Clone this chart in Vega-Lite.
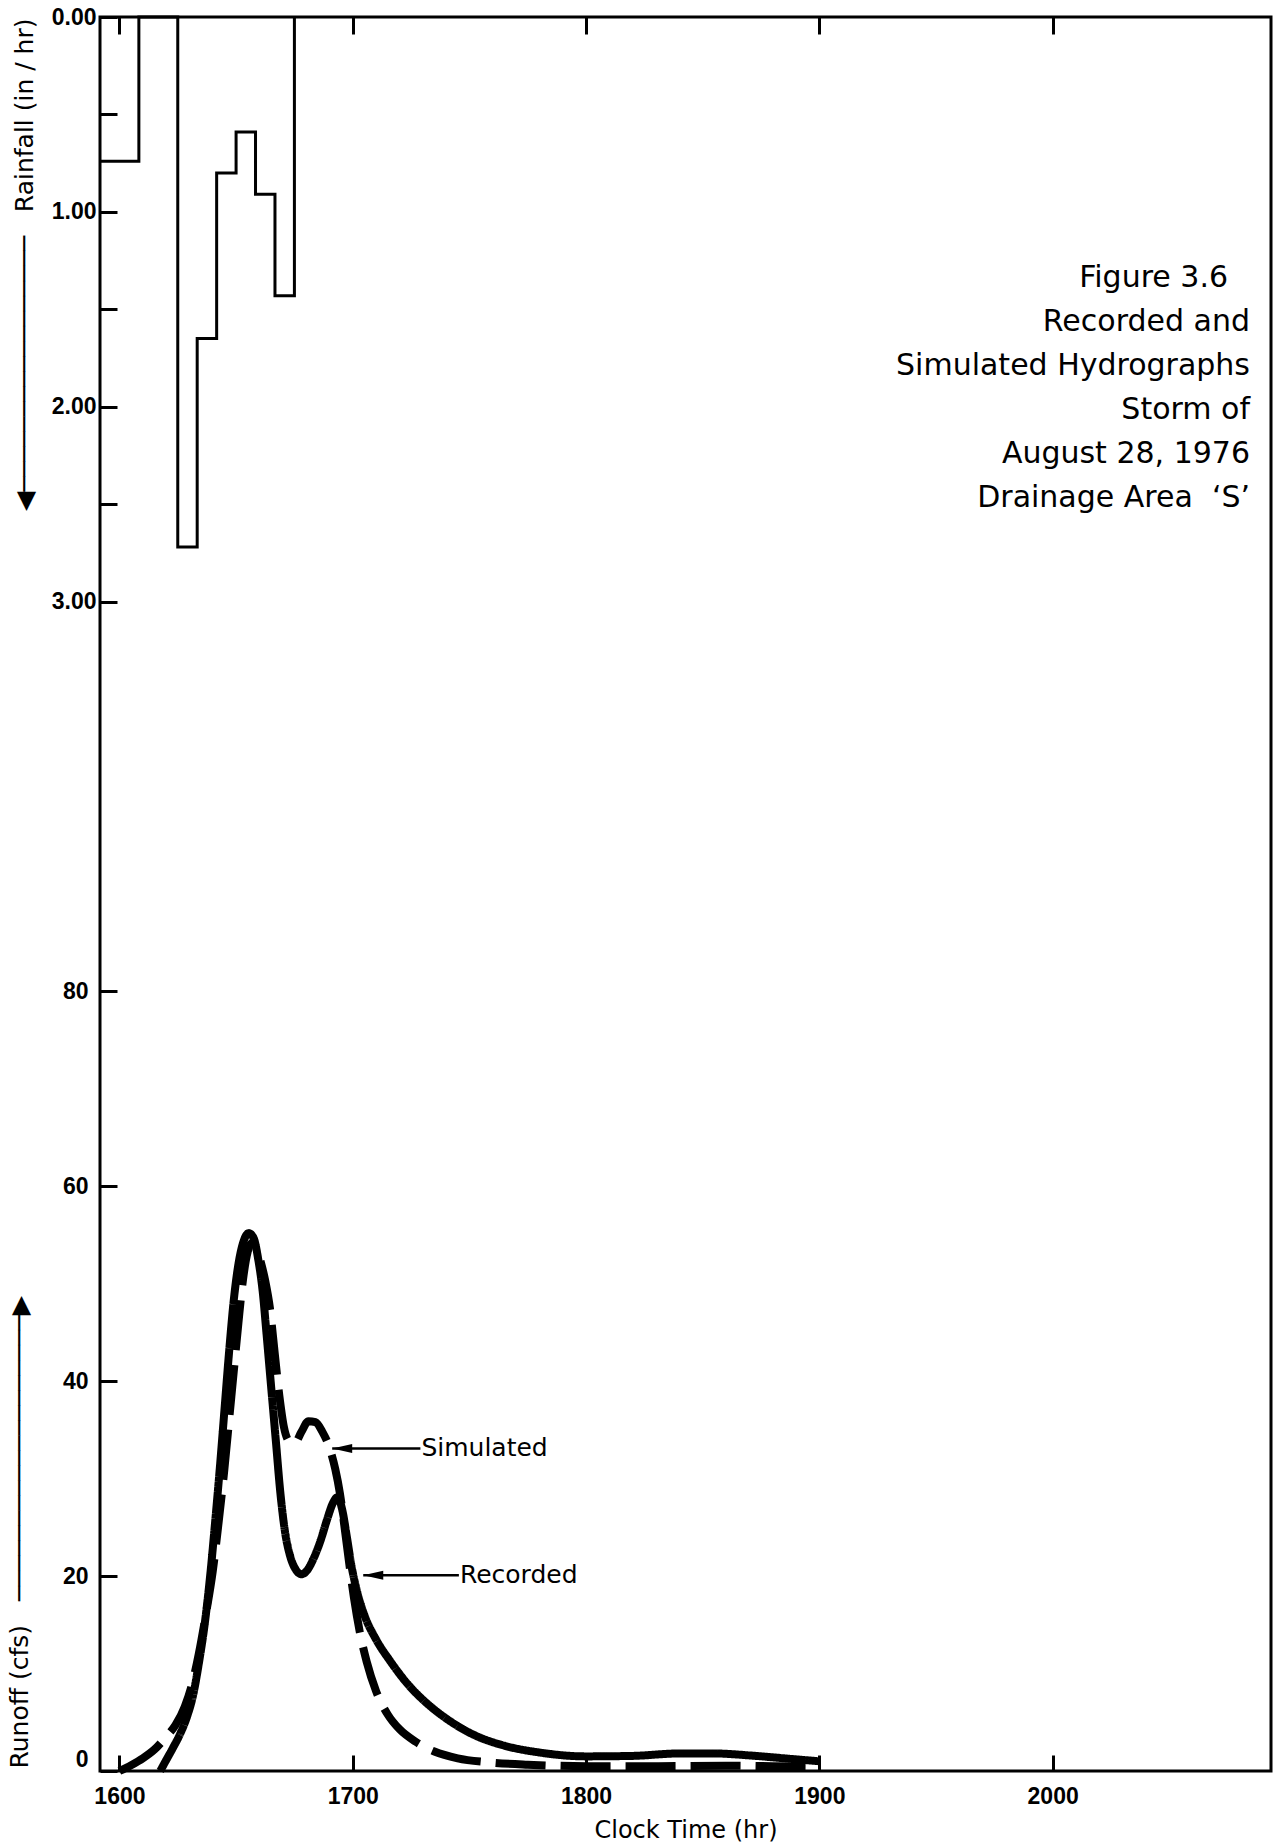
{
  "$schema": "https://vega.github.io/schema/vega-lite/v6.json",
  "width": 1171,
  "height": 1754,
  "autosize": "none",
  "padding": {"left": 100, "top": 17, "right": 5, "bottom": 76},
  "background": "white",
  "config": {
    "font": "DejaVu Sans",
    "view": {"stroke": "black", "strokeWidth": 3},
    "axis": {
      "domain": false,
      "grid": false,
      "ticks": true,
      "tickColor": "black",
      "tickWidth": 3,
      "tickOpacity": 1,
      "labelColor": "black",
      "titleColor": "black",
      "labelFont": "Liberation Sans",
      "labelFontWeight": "bold",
      "labelFontSize": 23,
      "titleFont": "DejaVu Sans",
      "titleFontWeight": "normal",
      "titleFontSize": 25
    }
  },
  "datasets": {
    "rainfall": [
      {"t": 1591.67, "intensity": 0.74},
      {"t": 1608.33, "intensity": 0},
      {"t": 1625.0, "intensity": 2.72},
      {"t": 1633.33, "intensity": 1.65},
      {"t": 1641.67, "intensity": 0.8},
      {"t": 1650.0, "intensity": 0.59},
      {"t": 1658.33, "intensity": 0.91},
      {"t": 1666.67, "intensity": 1.43},
      {"t": 1675.0, "intensity": 0}
    ],
    "runoff": [
      {"series": "Recorded", "t": 1617.5, "cfs": 0},
      {"series": "Recorded", "t": 1620, "cfs": 1.1},
      {"series": "Recorded", "t": 1623, "cfs": 2.4},
      {"series": "Recorded", "t": 1626, "cfs": 3.8},
      {"series": "Recorded", "t": 1629, "cfs": 5.6},
      {"series": "Recorded", "t": 1631.5, "cfs": 7.7},
      {"series": "Recorded", "t": 1634, "cfs": 11},
      {"series": "Recorded", "t": 1636.5, "cfs": 15},
      {"series": "Recorded", "t": 1639, "cfs": 20.3},
      {"series": "Recorded", "t": 1641, "cfs": 25.5},
      {"series": "Recorded", "t": 1643, "cfs": 31},
      {"series": "Recorded", "t": 1645, "cfs": 37},
      {"series": "Recorded", "t": 1647, "cfs": 43},
      {"series": "Recorded", "t": 1649, "cfs": 48.3},
      {"series": "Recorded", "t": 1651, "cfs": 52},
      {"series": "Recorded", "t": 1653, "cfs": 54.2},
      {"series": "Recorded", "t": 1655.5, "cfs": 55.2},
      {"series": "Recorded", "t": 1657.5, "cfs": 54.7},
      {"series": "Recorded", "t": 1659.5, "cfs": 52.5},
      {"series": "Recorded", "t": 1661.5, "cfs": 49},
      {"series": "Recorded", "t": 1663, "cfs": 45},
      {"series": "Recorded", "t": 1665, "cfs": 39.5},
      {"series": "Recorded", "t": 1667, "cfs": 34},
      {"series": "Recorded", "t": 1669, "cfs": 28.5},
      {"series": "Recorded", "t": 1671, "cfs": 24.5},
      {"series": "Recorded", "t": 1673, "cfs": 22.2},
      {"series": "Recorded", "t": 1675.5, "cfs": 20.7},
      {"series": "Recorded", "t": 1678, "cfs": 20.2},
      {"series": "Recorded", "t": 1680.5, "cfs": 20.6},
      {"series": "Recorded", "t": 1683, "cfs": 21.7},
      {"series": "Recorded", "t": 1686, "cfs": 23.5},
      {"series": "Recorded", "t": 1689, "cfs": 25.8},
      {"series": "Recorded", "t": 1691.5, "cfs": 27.5},
      {"series": "Recorded", "t": 1693.5, "cfs": 28.1},
      {"series": "Recorded", "t": 1695.5, "cfs": 26.8},
      {"series": "Recorded", "t": 1697.5, "cfs": 24},
      {"series": "Recorded", "t": 1699.5, "cfs": 21},
      {"series": "Recorded", "t": 1702, "cfs": 18.3},
      {"series": "Recorded", "t": 1705, "cfs": 16},
      {"series": "Recorded", "t": 1710, "cfs": 13.5},
      {"series": "Recorded", "t": 1716, "cfs": 11.3},
      {"series": "Recorded", "t": 1724, "cfs": 8.8},
      {"series": "Recorded", "t": 1732, "cfs": 6.9},
      {"series": "Recorded", "t": 1740, "cfs": 5.4},
      {"series": "Recorded", "t": 1752, "cfs": 3.7},
      {"series": "Recorded", "t": 1765, "cfs": 2.6},
      {"series": "Recorded", "t": 1780, "cfs": 1.9},
      {"series": "Recorded", "t": 1800, "cfs": 1.5},
      {"series": "Recorded", "t": 1820, "cfs": 1.55},
      {"series": "Recorded", "t": 1840, "cfs": 1.8},
      {"series": "Recorded", "t": 1855, "cfs": 1.8},
      {"series": "Recorded", "t": 1870, "cfs": 1.6},
      {"series": "Recorded", "t": 1885, "cfs": 1.3},
      {"series": "Recorded", "t": 1900, "cfs": 1.0},
      {"series": "Simulated", "t": 1600, "cfs": 0},
      {"series": "Simulated", "t": 1605, "cfs": 0.6},
      {"series": "Simulated", "t": 1610, "cfs": 1.3},
      {"series": "Simulated", "t": 1615, "cfs": 2.2},
      {"series": "Simulated", "t": 1620, "cfs": 3.5},
      {"series": "Simulated", "t": 1624, "cfs": 4.7},
      {"series": "Simulated", "t": 1628, "cfs": 6.6},
      {"series": "Simulated", "t": 1631, "cfs": 8.8},
      {"series": "Simulated", "t": 1634, "cfs": 12},
      {"series": "Simulated", "t": 1637, "cfs": 16},
      {"series": "Simulated", "t": 1640, "cfs": 20.5},
      {"series": "Simulated", "t": 1642.5, "cfs": 25.5},
      {"series": "Simulated", "t": 1645, "cfs": 31},
      {"series": "Simulated", "t": 1647, "cfs": 36},
      {"series": "Simulated", "t": 1649, "cfs": 41},
      {"series": "Simulated", "t": 1651, "cfs": 46},
      {"series": "Simulated", "t": 1653, "cfs": 50.5},
      {"series": "Simulated", "t": 1655, "cfs": 53.3},
      {"series": "Simulated", "t": 1656.8, "cfs": 54.2},
      {"series": "Simulated", "t": 1658.5, "cfs": 53.8},
      {"series": "Simulated", "t": 1660.5, "cfs": 52.3},
      {"series": "Simulated", "t": 1662.5, "cfs": 50.3},
      {"series": "Simulated", "t": 1664.5, "cfs": 47.5},
      {"series": "Simulated", "t": 1666.5, "cfs": 43},
      {"series": "Simulated", "t": 1668.5, "cfs": 38.6},
      {"series": "Simulated", "t": 1670.5, "cfs": 35.3},
      {"series": "Simulated", "t": 1672.5, "cfs": 33.9},
      {"series": "Simulated", "t": 1675, "cfs": 33.6},
      {"series": "Simulated", "t": 1678, "cfs": 34.8},
      {"series": "Simulated", "t": 1681, "cfs": 35.9},
      {"series": "Simulated", "t": 1684, "cfs": 35.8},
      {"series": "Simulated", "t": 1687, "cfs": 34.8},
      {"series": "Simulated", "t": 1690, "cfs": 33.2},
      {"series": "Simulated", "t": 1692.5, "cfs": 31},
      {"series": "Simulated", "t": 1694.5, "cfs": 28.5},
      {"series": "Simulated", "t": 1696.5, "cfs": 25},
      {"series": "Simulated", "t": 1698.5, "cfs": 21.3},
      {"series": "Simulated", "t": 1700.5, "cfs": 17.8},
      {"series": "Simulated", "t": 1703, "cfs": 14.3},
      {"series": "Simulated", "t": 1706, "cfs": 11.2},
      {"series": "Simulated", "t": 1710, "cfs": 8.2},
      {"series": "Simulated", "t": 1715, "cfs": 5.8},
      {"series": "Simulated", "t": 1720, "cfs": 4.3},
      {"series": "Simulated", "t": 1727, "cfs": 3},
      {"series": "Simulated", "t": 1735, "cfs": 2},
      {"series": "Simulated", "t": 1745, "cfs": 1.3},
      {"series": "Simulated", "t": 1758, "cfs": 0.9},
      {"series": "Simulated", "t": 1775, "cfs": 0.65},
      {"series": "Simulated", "t": 1800, "cfs": 0.5},
      {"series": "Simulated", "t": 1830, "cfs": 0.5},
      {"series": "Simulated", "t": 1860, "cfs": 0.55},
      {"series": "Simulated", "t": 1880, "cfs": 0.5},
      {"series": "Simulated", "t": 1900, "cfs": 0.45}
    ],
    "callouts": [
      {"label": "Simulated", "tip": 1691.2, "tail": 1729, "cfs": 33.1},
      {"label": "Recorded", "tip": 1704.5, "tail": 1745.5, "cfs": 20.1}
    ]
  },
  "layer": [
    {
      "layer": [
        {
          "data": {"name": "rainfall"},
          "mark": {"type": "line", "interpolate": "step-after", "color": "black", "strokeWidth": 3, "strokeJoin": "miter", "strokeCap": "butt"},
          "encoding": {
            "x": {
              "field": "t",
              "type": "quantitative",
              "scale": {"domain": [1591.67, 2093.6], "nice": false, "zero": false},
              "axis": {"orient": "top", "values": [1600, 1700, 1800, 1900, 2000], "labels": false, "ticks": true, "tickSize": 17, "offset": -17, "title": null}
            },
            "y": {
              "field": "intensity",
              "type": "quantitative",
              "scale": {"domain": [0, 9], "reverse": true, "nice": false, "zero": false},
              "axis": {
                "orient": "left",
                "values": [0, 0.5, 1, 1.5, 2, 2.5, 3],
                "tickSize": -17,
                "labelPadding": 21,
                "labelFlush": false,
                "labelExpr": "datum.value % 1 === 0 ? format(datum.value, '.2f') : ''",
                "title": "◀─────────────────\u00a0\u00a0\u00a0Rainfall (in / hr)",
                "titleX": -76,
                "titleY": 1,
                "titleAlign": "right",
                "titleAngle": -90,
                "titleBaseline": "middle"
              }
            }
          }
        },
        {
          "data": {"values": [{}]},
          "mark": {"type": "text", "align": "right", "baseline": "middle", "font": "DejaVu Sans", "fontSize": 30, "lineHeight": 44, "color": "black"},
          "encoding": {
            "x": {"datum": 2084.6, "type": "quantitative"},
            "y": {"datum": 1.34, "type": "quantitative"},
            "text": {"value": ["Figure 3.6\u2800", "Recorded and", "Simulated Hydrographs", "Storm of", "August 28, 1976", "Drainage Area\u00a0\u00a0‘S’"]}
          }
        }
      ]
    },
    {
      "layer": [
        {
          "data": {"name": "runoff"},
          "mark": {"type": "line", "interpolate": "monotone", "color": "black", "strokeWidth": 8, "strokeCap": "butt", "strokeJoin": "round"},
          "encoding": {
            "x": {
              "field": "t",
              "type": "quantitative",
              "scale": {"domain": [1591.67, 2093.6], "nice": false, "zero": false},
              "axis": {
                "orient": "bottom",
                "values": [1600, 1700, 1800, 1900, 2000],
                "format": "d",
                "ticks": true,
                "tickSize": 16,
                "offset": -16,
                "labelPadding": 14,
                "labelFlush": false,
                "title": "Clock Time (hr)",
                "titleFontSize": 24,
                "titleY": 63,
                "titleBaseline": "top"
              }
            },
            "y": {
              "field": "cfs",
              "type": "quantitative",
              "scale": {"domain": [0, 180], "nice": false, "zero": true},
              "axis": {
                "orient": "left",
                "values": [0, 20, 40, 60, 80],
                "tickSize": -17,
                "labelPadding": 29,
                "labelFlush": true,
                "title": "Runoff (cfs)\u00a0\u00a0\u00a0───────────────────▶",
                "titleX": -81,
                "titleY": 1751,
                "titleAlign": "left",
                "titleAngle": -90,
                "titleBaseline": "middle"
              }
            },
            "strokeDash": {
              "field": "series",
              "type": "nominal",
              "scale": {"domain": ["Recorded", "Simulated"], "range": [[1, 0], [50, 15]]},
              "legend": null
            }
          }
        },
        {
          "data": {"name": "callouts"},
          "mark": {"type": "rule", "color": "black", "strokeWidth": 2.5},
          "encoding": {
            "x": {"field": "tip", "type": "quantitative"},
            "x2": {"field": "tail"},
            "y": {"field": "cfs", "type": "quantitative"}
          }
        },
        {
          "data": {"name": "callouts"},
          "mark": {"type": "point", "shape": "M 0 0 L 2 -0.45 L 2 0.45 Z", "size": 400, "filled": true, "color": "black", "opacity": 1, "strokeWidth": 0},
          "encoding": {
            "x": {"field": "tip", "type": "quantitative"},
            "y": {"field": "cfs", "type": "quantitative"}
          }
        },
        {
          "data": {"name": "callouts"},
          "mark": {"type": "text", "align": "left", "baseline": "middle", "font": "DejaVu Sans", "fontSize": 25, "dx": 1, "color": "black"},
          "encoding": {
            "x": {"field": "tail", "type": "quantitative"},
            "y": {"field": "cfs", "type": "quantitative"},
            "text": {"field": "label"}
          }
        }
      ]
    }
  ],
  "resolve": {"scale": {"y": "independent"}, "axis": {"x": "independent", "y": "independent"}}
}
